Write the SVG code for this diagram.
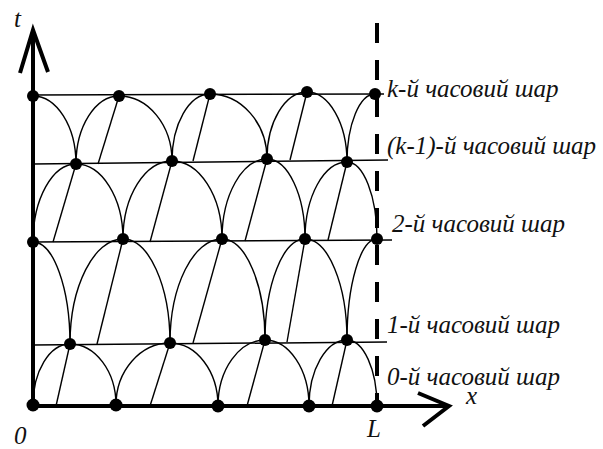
<svg xmlns="http://www.w3.org/2000/svg" width="603" height="449" viewBox="0 0 603 449">
<style>
.grid{stroke:#000;stroke-width:1.5;fill:none}
.curve{stroke:#000;stroke-width:1.4;fill:none}
.char{stroke:#000;stroke-width:1.4;fill:none}
.axis{stroke:#000;stroke-width:4;fill:none}
.dash{stroke:#000;stroke-width:4;fill:none;stroke-dasharray:20 17}
.dot{fill:#000}
.lbl{font-family:"Liberation Serif","Times New Roman",serif;font-style:italic;font-size:25px;fill:#111}
</style>
<rect width="603" height="449" fill="#fff"/>
<g id="connectors">
<g id="layer-lines">
<line class="grid" x1="33" y1="95" x2="384" y2="94"/>
<line class="grid" x1="33" y1="164" x2="388" y2="160"/>
<line class="grid" x1="33" y1="242" x2="392" y2="240"/>
<line class="grid" x1="33" y1="345" x2="387" y2="342"/>
</g>
<g id="curves-0-1">
<path class="curve" d="M70,344 C49.6,344 33,371.4 33,405"/>
<path class="curve" d="M70,344 C95.3,344 116,371.4 116,405"/>
<path class="curve" d="M170,343 C140.3,343 116,370.9 116,405"/>
<path class="curve" d="M170,343 C196.4,343 218,371.4 218,406"/>
<path class="curve" d="M265,340 C239.2,340 218,369.7 218,406"/>
<path class="curve" d="M265,340 C289.2,340 309,369.7 309,406"/>
<path class="curve" d="M347,340 C326.1,340 309,369.7 309,406"/>
<path class="curve" d="M347,340 C363.5,340 377,369.7 377,406"/>
<line class="char" x1="70" y1="344" x2="56" y2="406"/>
<line class="char" x1="170" y1="343" x2="150" y2="406"/>
<line class="char" x1="265" y1="340" x2="247" y2="406"/>
<line class="char" x1="347" y1="340" x2="332" y2="406"/>
</g>
<g id="curves-1-2">
<path class="curve" d="M33,242 C53.4,242 70,287.9 70,344"/>
<path class="curve" d="M123,239 C93.9,239 70,286.3 70,344"/>
<path class="curve" d="M123,239 C148.9,239 170,285.8 170,343"/>
<path class="curve" d="M222,239 C193.4,239 170,285.8 170,343"/>
<path class="curve" d="M222,239 C245.7,239 265,284.5 265,340"/>
<path class="curve" d="M305,239 C283,239 265,284.5 265,340"/>
<path class="curve" d="M305,239 C328.1,239 347,284.5 347,340"/>
<path class="curve" d="M377,239 C360.5,239 347,284.5 347,340"/>
<line class="char" x1="123" y1="239" x2="97" y2="344"/>
<line class="char" x1="222" y1="239" x2="193" y2="343"/>
<line class="char" x1="305" y1="239" x2="287" y2="342"/>
</g>
<g id="curves-2-k1">
<path class="curve" d="M76,164 C52.4,164 33,199.1 33,242"/>
<path class="curve" d="M76,164 C101.9,164 123,197.8 123,239"/>
<path class="curve" d="M172,161 C145,161 123,196.1 123,239"/>
<path class="curve" d="M172,161 C199.5,161 222,196.1 222,239"/>
<path class="curve" d="M267,159 C242.3,159 222,195 222,239"/>
<path class="curve" d="M267,159 C287.9,159 305,195 305,239"/>
<path class="curve" d="M347,162 C323.9,162 305,196.4 305,239"/>
<path class="curve" d="M347,162 C363.5,162 377,196.4 377,239"/>
<line class="char" x1="76" y1="164" x2="53" y2="242"/>
<line class="char" x1="172" y1="161" x2="150" y2="242"/>
<line class="char" x1="267" y1="159" x2="245" y2="241"/>
<line class="char" x1="347" y1="162" x2="328" y2="240"/>
</g>
<g id="curves-k1-k">
<path class="curve" d="M33,96 C56.7,96 76,126.6 76,164"/>
<path class="curve" d="M119,96 C95.4,96 76,126.6 76,164"/>
<path class="curve" d="M119,96 C148.2,96 172,125.3 172,161"/>
<path class="curve" d="M210,94 C189.1,94 172,124.2 172,161"/>
<path class="curve" d="M210,94 C241.4,94 267,123.3 267,159"/>
<path class="curve" d="M307,92 C285,92 267,122.2 267,159"/>
<path class="curve" d="M307,92 C329,92 347,123.5 347,162"/>
<path class="curve" d="M375,94 C359.6,94 347,124.6 347,162"/>
<line class="char" x1="119" y1="96" x2="98" y2="164"/>
<line class="char" x1="210" y1="94" x2="193" y2="161"/>
<line class="char" x1="307" y1="92" x2="290" y2="160"/>
</g>
<line id="boundary-L" class="dash" x1="377" y1="23" x2="377" y2="406"/>
<g id="axis-t">
<line class="axis" x1="33" y1="32" x2="33" y2="408"/>
<polyline class="axis" points="20,73 33,30 48,72"/>
</g>
<g id="axis-x">
<line class="axis" x1="31" y1="406" x2="447" y2="406"/>
<polyline class="axis" points="418,393 449,406 423,426"/>
</g>
</g>
<g id="nodes">
<g id="layer-k"><circle class="dot" cx="33" cy="96" r="6"/><circle class="dot" cx="119" cy="96" r="6"/><circle class="dot" cx="210" cy="94" r="6"/><circle class="dot" cx="307" cy="92" r="6"/><circle class="dot" cx="375" cy="94" r="6"/></g>
<g id="layer-k1"><circle class="dot" cx="76" cy="164" r="6"/><circle class="dot" cx="172" cy="161" r="6"/><circle class="dot" cx="267" cy="159" r="6"/><circle class="dot" cx="347" cy="162" r="6"/></g>
<g id="layer-2"><circle class="dot" cx="33" cy="242" r="6"/><circle class="dot" cx="123" cy="239" r="6"/><circle class="dot" cx="222" cy="239" r="6"/><circle class="dot" cx="305" cy="239" r="6"/><circle class="dot" cx="377" cy="239" r="6"/></g>
<g id="layer-1"><circle class="dot" cx="70" cy="344" r="6"/><circle class="dot" cx="170" cy="343" r="6"/><circle class="dot" cx="265" cy="340" r="6"/><circle class="dot" cx="347" cy="340" r="6"/></g>
<g id="layer-0"><circle class="dot" cx="33" cy="405" r="6.5"/><circle class="dot" cx="116" cy="405" r="6.5"/><circle class="dot" cx="218" cy="406" r="6.5"/><circle class="dot" cx="309" cy="406" r="6.5"/><circle class="dot" cx="377" cy="406" r="6.5"/></g>
</g>
<g id="labels">
<text class="lbl" x="387" y="97">k-й часовий шар</text>
<text class="lbl" x="387" y="154">(k-1)-й часовий шар</text>
<text class="lbl" x="392" y="232">2-й часовий шар</text>
<text class="lbl" x="387" y="333">1-й часовий шар</text>
<text class="lbl" x="387" y="385">0-й часовий шар</text>
<text class="lbl" x="466" y="404">x</text>
<text class="lbl" x="367" y="437">L</text>
<text class="lbl" x="14" y="444">0</text>
<text class="lbl" x="14" y="27">t</text>
</g>
</svg>
